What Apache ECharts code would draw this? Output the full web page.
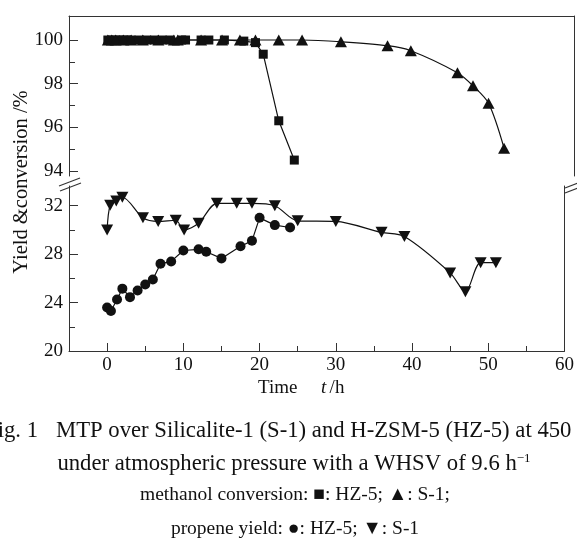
<!DOCTYPE html>
<html>
<head>
<meta charset="utf-8">
<script src="https://cdn.jsdelivr.net/npm/echarts@6/dist/echarts.min.js"></script>
<style>
html, body { margin: 0; padding: 0; background: #fff; }
#main { width: 577px; height: 543px; }
</style>
</head>
<body>
<div id="main"></div>
<script>
// time on stream (h) and values
var hz5ConvT = [0, 0.5, 1, 1.5, 2, 2.5, 3, 4, 5, 6, 7, 8, 9.5, 10, 12, 13, 15, 17.5, 19, 20, 22, 24];
var hz5ConvV = [100, 100, 100, 100, 100, 100, 100, 100, 100, 100, 100, 100, 100, 100, 100, 100, 100, 99.95, 99.88, 99.35, 96.3, 94.5];

var s1ConvT = [0, 0.5, 1, 2, 3, 4.5, 6.5, 8.5, 9, 12, 14.7, 17, 19, 22, 25, 30, 36, 39, 45, 47, 49, 51];
var s1ConvV = [100, 100, 100, 100, 100, 100, 100, 100, 100, 100, 100, 100, 100, 100, 100, 99.92, 99.74, 99.51, 98.5, 97.9, 97.1, 95.04];

var hz5YieldT = [0, 0.5, 1.3, 2, 3, 4, 5, 6, 7, 8.4, 10, 12, 13, 15, 17.5, 19, 20, 22, 24];
var hz5YieldV = [23.6, 23.3, 24.25, 25.15, 24.45, 25.0, 25.5, 25.9, 27.2, 27.4, 28.3, 28.4, 28.2, 27.65, 28.65, 29.1, 31.0, 30.4, 30.2];

var s1YieldT = [0, 0.4, 1.2, 2, 4.7, 6.7, 9, 10.1, 12, 14.4, 17, 19, 22, 25, 30, 36, 39, 45, 47, 49, 51];
var s1YieldV = [30.0, 32.05, 32.4, 32.7, 31.0, 30.7, 30.8, 30.0, 30.55, 32.2, 32.2, 32.2, 32.0, 30.75, 30.7, 29.8, 29.45, 26.45, 24.9, 27.3, 27.3];

// tick labels
var xTicks = [0, 10, 20, 30, 40, 50, 60];
var xMinor = [5, 15, 25, 35, 45, 55];
var yTopTicks = [94, 96, 98, 100];
var yTopMinor = [95, 97, 99];
var yBotTicks = [20, 24, 28, 32];
var yBotMinor = [22, 26, 30];

function pairs(t, v) {
  return t.map(function (x, i) { return [x, v[i]]; });
}

var FONT = "'Liberation Serif', 'DejaVu Serif', serif";
var SYMFONT = "'Liberation Serif', 'DejaVu Sans', sans-serif";
var AX = '#333';
var INK = '#111';

var myChart = echarts.init(document.getElementById('main'));

function noSplit() { return { show: false }; }

var option = {
  animation: false,
  backgroundColor: '#fff',
  grid: [
    { left: 69, right: 3, top: 16, height: 160 },
    { left: 69, right: 3, top: 186, height: 165 }
  ],
  xAxis: [
    { gridIndex: 0, type: 'value', position: 'top', min: -5, max: 60,
      axisLine: { onZero: false, lineStyle: { color: AX } },
      axisTick: { show: false }, axisLabel: { show: false }, splitLine: noSplit() },
    { gridIndex: 1, type: 'value', position: 'bottom', min: -5, max: 60,
      axisLine: { onZero: false, lineStyle: { color: AX } },
      axisTick: { inside: true, length: 8, customValues: xTicks, lineStyle: { color: AX } },
      axisLabel: { customValues: xTicks, fontFamily: FONT, fontSize: 19, color: INK, margin: 5 },
      splitLine: noSplit() },
    { gridIndex: 1, type: 'value', position: 'bottom', min: -5, max: 60,
      axisLine: { show: false, onZero: false },
      axisTick: { inside: true, length: 5, customValues: xMinor, lineStyle: { color: AX } },
      axisLabel: { show: false }, splitLine: noSplit() }
  ],
  yAxis: [
    { gridIndex: 0, type: 'value', position: 'left', min: 93.77, max: 101.1,
      axisLine: { show: true, onZero: false, lineStyle: { color: AX } },
      axisTick: { show: true, inside: true, length: 9, customValues: yTopTicks, lineStyle: { color: AX } },
      axisLabel: { customValues: yTopTicks, fontFamily: FONT, fontSize: 19, color: INK, margin: 6 },
      splitLine: noSplit() },
    { gridIndex: 0, type: 'value', position: 'left', min: 93.77, max: 101.1,
      axisLine: { show: false, onZero: false },
      axisTick: { show: true, inside: true, length: 6, customValues: yTopMinor, lineStyle: { color: AX } },
      axisLabel: { show: false }, splitLine: noSplit() },
    { gridIndex: 0, type: 'value', position: 'right', min: 93.77, max: 101.1,
      axisLine: { show: true, onZero: false, lineStyle: { color: AX } },
      axisTick: { show: false }, axisLabel: { show: false }, splitLine: noSplit() },
    { gridIndex: 1, type: 'value', position: 'left', min: 20, max: 33.63,
      axisLine: { show: true, onZero: false, lineStyle: { color: AX } },
      axisTick: { show: true, inside: true, length: 9, customValues: yBotTicks, lineStyle: { color: AX } },
      axisLabel: { customValues: yBotTicks, fontFamily: FONT, fontSize: 19, color: INK, margin: 6 },
      splitLine: noSplit() },
    { gridIndex: 1, type: 'value', position: 'left', min: 20, max: 33.63,
      axisLine: { show: false, onZero: false },
      axisTick: { show: true, inside: true, length: 6, customValues: yBotMinor, lineStyle: { color: AX } },
      axisLabel: { show: false }, splitLine: noSplit() },
    { gridIndex: 1, type: 'value', position: 'right', min: 20, max: 33.63,
      axisLine: { show: true, onZero: false, lineStyle: { color: AX } },
      axisTick: { show: false }, axisLabel: { show: false }, splitLine: noSplit() }
  ],
  series: [
    { name: 'HZ-5 conversion', type: 'line', xAxisIndex: 0, yAxisIndex: 0,
      data: pairs(hz5ConvT, hz5ConvV), symbol: 'rect', symbolSize: 9,
      lineStyle: { color: INK, width: 1.2 }, itemStyle: { color: INK } },
    { name: 'S-1 conversion', type: 'line', xAxisIndex: 0, yAxisIndex: 0,
      data: pairs(s1ConvT, s1ConvV), symbol: 'triangle', symbolSize: [12, 11], smooth: 0.3,
      lineStyle: { color: INK, width: 1.2 }, itemStyle: { color: INK } },
    { name: 'HZ-5 yield', type: 'line', xAxisIndex: 1, yAxisIndex: 3,
      data: pairs(hz5YieldT, hz5YieldV), symbol: 'circle', symbolSize: 10,
      lineStyle: { color: INK, width: 1.2 }, itemStyle: { color: INK } },
    { name: 'S-1 yield', type: 'line', xAxisIndex: 1, yAxisIndex: 3,
      data: pairs(s1YieldT, s1YieldV), symbol: 'triangle', symbolRotate: 180, symbolSize: [12, 11], smooth: 0.3,
      lineStyle: { color: INK, width: 1.2 }, itemStyle: { color: INK } }
  ],
  graphic: [
    // axis break marks
    { type: 'line', shape: { x1: 59, y1: 186, x2: 80, y2: 178 }, style: { stroke: AX, lineWidth: 1.2 } },
    { type: 'line', shape: { x1: 60, y1: 191, x2: 81, y2: 183 }, style: { stroke: AX, lineWidth: 1.2 } },
    { type: 'line', shape: { x1: 565, y1: 188, x2: 586, y2: 180 }, style: { stroke: AX, lineWidth: 1.2 } },
    { type: 'line', shape: { x1: 565, y1: 193, x2: 586, y2: 185 }, style: { stroke: AX, lineWidth: 1.2 } },
    // axis titles
    { type: 'text', x: 22, y: 182, rotation: Math.PI / 2,
      style: { text: 'Yield &conversion /%', fontFamily: FONT, fontSize: 20.5, fill: INK, align: 'center', verticalAlign: 'middle' } },
    { type: 'text', x: 258, y: 388,
      style: { text: 'Time', fontFamily: FONT, fontSize: 19, fill: INK, align: 'left', verticalAlign: 'middle' } },
    { type: 'text', x: 321, y: 388,
      style: { text: '{i|t} {n|/h}', align: 'left', verticalAlign: 'middle',
        rich: {
          n: { fontFamily: FONT, fontSize: 19, fill: INK, color: INK },
          i: { fontFamily: FONT, fontSize: 19, fontStyle: 'italic', fill: INK, color: INK }
        } } },
    // caption
    { type: 'text', x: 38, y: 431,
      style: { text: 'Fig. 1', fontFamily: FONT, fontSize: 22.7, fill: INK, align: 'right', verticalAlign: 'middle' } },
    { type: 'text', x: 56, y: 431,
      style: { text: 'MTP over Silicalite-1 (S-1) and H-ZSM-5 (HZ-5) at 450 \u00b0C', fontFamily: FONT, fontSize: 22.7, fill: INK, align: 'left', verticalAlign: 'middle' } },
    { type: 'text', x: 294, y: 464,
      style: { text: '{n|under atmospheric pressure with a WHSV of 9.6 h}{s|\u22121}', align: 'center', verticalAlign: 'middle',
        rich: {
          n: { fontFamily: FONT, fontSize: 22.7, fill: INK, color: INK },
          s: { fontFamily: FONT, fontSize: 13, fill: INK, color: INK, verticalAlign: 'top', padding: [0, 0, 11, 0] }
        } } },
    { type: 'text', x: 295, y: 495,
      style: { text: 'methanol conversion: \u25a0: HZ-5; \u25b2: S-1;', fontFamily: SYMFONT, fontSize: 19.5, fill: INK, align: 'center', verticalAlign: 'middle' } },
    { type: 'text', x: 295, y: 529,
      style: { text: 'propene yield: \u25cf: HZ-5; \u25bc: S-1', fontFamily: SYMFONT, fontSize: 19.5, fill: INK, align: 'center', verticalAlign: 'middle' } }
  ]
};

myChart.setOption(option);
</script>
</body>
</html>
